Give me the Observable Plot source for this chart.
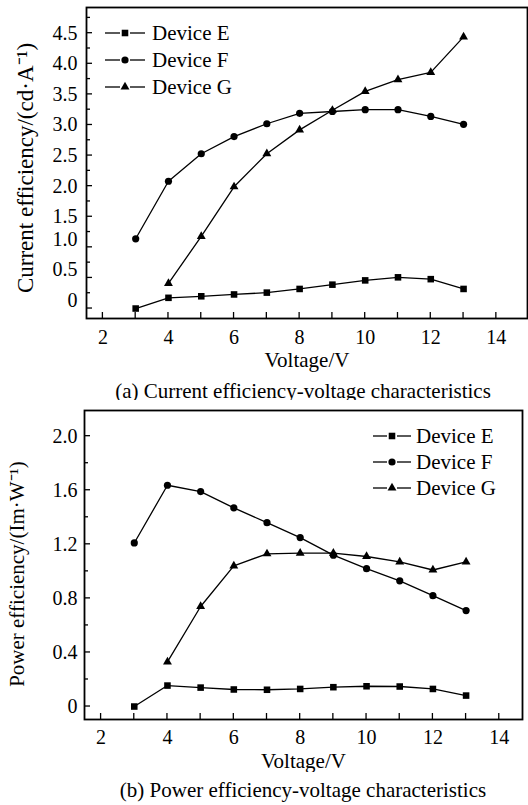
<!DOCTYPE html>
<html><head><meta charset="utf-8">
<script src="https://cdn.jsdelivr.net/npm/d3@7"></script>
<script src="https://cdn.jsdelivr.net/npm/@observablehq/plot@0.6"></script>
<style>
body{margin:0;background:#fff;width:528px;height:805px;position:relative;overflow:hidden;font-family:"Liberation Serif",serif;}
svg, svg text, svg tspan{font-family:"Liberation Serif",serif !important;}
.panel{position:absolute;left:0;}
.cap{position:absolute;left:0;width:606px;text-align:center;font-size:21px;line-height:24px;color:#000;white-space:nowrap;font-family:"Liberation Serif",serif;}
</style></head><body>
<div id="p1" class="panel" style="top:0px"></div>
<div id="c1" class="cap" style="top:379px"></div>
<div id="p2" class="panel" style="top:400px"></div>
<div id="c2" class="cap" style="top:778px"></div>
<script>
// ---- data ----
const devices = ["Device E", "Device F", "Device G"];
const voltage = [3, 4, 5, 6, 7, 8, 9, 10, 11, 12, 13];
// Current efficiency (cd/A)
const ceE = [0.00, 0.175, 0.20, 0.23, 0.26, 0.32, 0.39, 0.46, 0.51, 0.48, 0.32];
const ceF = [1.14, 2.08, 2.53, 2.81, 3.02, 3.19, 3.22, 3.25, 3.25, 3.14, 3.01];
const ceG = [null, 0.41, 1.18, 1.99, 2.53, 2.92, 3.24, 3.55, 3.74, 3.86, 4.44];
// Power efficiency (lm/W)
const peE = [0.00, 0.155, 0.14, 0.126, 0.124, 0.13, 0.143, 0.15, 0.148, 0.13, 0.081];
const peF = [1.21, 1.637, 1.59, 1.47, 1.36, 1.25, 1.12, 1.02, 0.93, 0.82, 0.71];
const peG = [null, 0.33, 0.74, 1.04, 1.13, 1.135, 1.135, 1.11, 1.07, 1.01, 1.07];
// ticks
const xTicks = [2, 3, 4, 5, 6, 7, 8, 9, 10, 11, 12, 13, 14];
const xTickLabels = [2, 4, 6, 8, 10, 12, 14];
const ceMajor = [0, 0.5, 1.0, 1.5, 2.0, 2.5, 3.0, 3.5, 4.0, 4.5];
const ceMinor = [0.25, 0.75, 1.25, 1.75, 2.25, 2.75, 3.25, 3.75, 4.25, 4.75];
const ceLabelsLow = [0, 0.5, 1.0];
const ceLabelsHigh = [1.5, 2.0, 2.5, 3.0, 3.5, 4.0, 4.5];
const peMajor = [0, 0.4, 0.8, 1.2, 1.6, 2.0];
const peMinor = [0.2, 0.6, 1.0, 1.4, 1.8];
const captions = ["(a) Current efficiency-voltage characteristics", "(b) Power efficiency-voltage characteristics"];
const yLabels = ["Current efficiency/(cd·A⁻¹)", "Power efficiency/(Im·W⁻¹)"];
const xLabel = "Voltage/V";

const symbols = ["square", "circle", "triangle"];
const radii = [3.7, 3.6, 3.3];
const d3sym = {square: d3.symbolSquare, circle: d3.symbolCircle, triangle: d3.symbolTriangle};
const fmt = d => d === 0 ? "0" : d.toFixed(1);
const FONT = "Liberation Serif, serif";

function rows(series) {
  const out = [];
  series.forEach((vals, k) => vals.forEach((v, i) => { if (v != null) out.push({device: devices[k], k, x: voltage[i], y: v}); }));
  return out;
}

function legendMark(x0, y0, gap, half, textX) {
  return () => {
    const g = d3.create("svg:g");
    devices.forEach((name, i) => {
      const y = y0 + i * gap;
      const cx = x0;
      g.append("line").attr("x1", cx - half).attr("x2", cx - 5).attr("y1", y).attr("y2", y).attr("stroke", "black").attr("stroke-width", 1.3);
      g.append("line").attr("x1", cx + 5).attr("x2", cx + half).attr("y1", y).attr("y2", y).attr("stroke", "black").attr("stroke-width", 1.3);
      g.append("path").attr("transform", `translate(${cx},${y})`)
        .attr("d", d3.symbol(d3sym[symbols[i]], radii[i] * radii[i] * Math.PI)()).attr("fill", "black");
      g.append("text").attr("x", textX).attr("y", y).attr("dy", "0.35em").attr("text-anchor", "start")
        .attr("font-size", 21).attr("fill", "black").text(name);
    });
    return g.node();
  };
}

// inward tick marks, positioned with the plot's own x and y scales
function tickMarks(xT, yMajor, yMinor) {
  return (index, scales, values, dims) => {
    const {x, y} = scales;
    const bottom = dims.height - dims.marginBottom;
    const left = dims.marginLeft;
    const g = d3.create("svg:g").attr("stroke", "black").attr("stroke-width", 1.3);
    xT.forEach(v => g.append("line").attr("x1", x(v)).attr("x2", x(v)).attr("y1", bottom).attr("y2", bottom - 6));
    yMajor.forEach(v => g.append("line").attr("x1", left).attr("x2", left + 6).attr("y1", y(v)).attr("y2", y(v)));
    yMinor.forEach(v => g.append("line").attr("x1", left).attr("x2", left + 4).attr("y1", y(v)).attr("y2", y(v)));
    return g.node();
  };
}

function seriesMarks(data) {
  const marks = [];
  for (let k = 0; k < 3; k++) {
    const d = data.filter(r => r.k === k);
    marks.push(Plot.line(d, {x: "x", y: "y", stroke: "black", strokeWidth: 1.3}));
  }
  for (let k = 0; k < 3; k++) {
    const d = data.filter(r => r.k === k);
    marks.push(Plot.dot(d, {x: "x", y: "y", symbol: () => symbols[k], r: radii[k], fill: "black", stroke: "none"}));
  }
  return marks;
}

// ---- panel (a) ----
const p1 = Plot.plot({
  width: 528, height: 372,
  marginLeft: 86, marginRight: 1, marginTop: 7, marginBottom: 54,
  style: {fontFamily: FONT, fontSize: "20px", color: "black", background: "white"},
  x: {domain: [1.5, 14.95]},
  y: {domain: [-0.163, 4.92]},
  symbol: {type: "identity"},
  marks: [
    Plot.axisX({ticks: xTickLabels, tickSize: 0, tickPadding: 11, label: null, fontSize: 20}),
    Plot.axisY({ticks: ceLabelsHigh, tickSize: 0, tickPadding: 9, tickFormat: fmt, label: null, fontSize: 20}),
    Plot.axisY({ticks: ceLabelsLow, tickSize: 0, tickPadding: 9, tickFormat: fmt, label: null, fontSize: 20, dy: -8}),
    Plot.frame({stroke: "black", strokeWidth: 1.8}),
    tickMarks(xTicks, ceMajor, ceMinor),
    ...seriesMarks(rows([ceE, ceF, ceG])),
    Plot.text([xLabel], {text: d => d, frameAnchor: "bottom", lineAnchor: "middle", textAnchor: "middle", dy: 42, fontSize: 21}),
    Plot.text([yLabels[0]], {text: d => d, frameAnchor: "left", lineAnchor: "middle", textAnchor: "middle", rotate: -90, dx: -61, dy: 5, fontSize: 23}),
    legendMark(125, 33, 27, 20, 152)
  ]
});
document.getElementById("p1").appendChild(p1);
document.getElementById("c1").textContent = captions[0];

// ---- panel (b) ----
const p2 = Plot.plot({
  width: 528, height: 372,
  marginLeft: 84, marginRight: 6, marginTop: 10, marginBottom: 53,
  style: {fontFamily: FONT, fontSize: "20px", color: "black", background: "white"},
  x: {domain: [1.5, 14.7]},
  y: {domain: [-0.096, 2.19]},
  symbol: {type: "identity"},
  marks: [
    Plot.axisX({ticks: xTickLabels, tickSize: 0, tickPadding: 10, label: null, fontSize: 20}),
    Plot.axisY({ticks: peMajor, tickSize: 0, tickPadding: 7, tickFormat: fmt, label: null, fontSize: 20}),
    Plot.frame({stroke: "black", strokeWidth: 1.8}),
    tickMarks(xTicks, peMajor, peMinor),
    ...seriesMarks(rows([peE, peF, peG])),
    Plot.text([xLabel], {text: d => d, frameAnchor: "bottom", lineAnchor: "middle", textAnchor: "middle", dy: 42, fontSize: 21}),
    Plot.text([yLabels[1]], {text: d => d, frameAnchor: "left", lineAnchor: "middle", textAnchor: "middle", rotate: -90, dx: -67, dy: 9, fontSize: 21}),
    legendMark(392, 36, 26, 19, 416)
  ]
});
document.getElementById("p2").appendChild(p2);
document.getElementById("c2").textContent = captions[1];
</script>
</body></html>
